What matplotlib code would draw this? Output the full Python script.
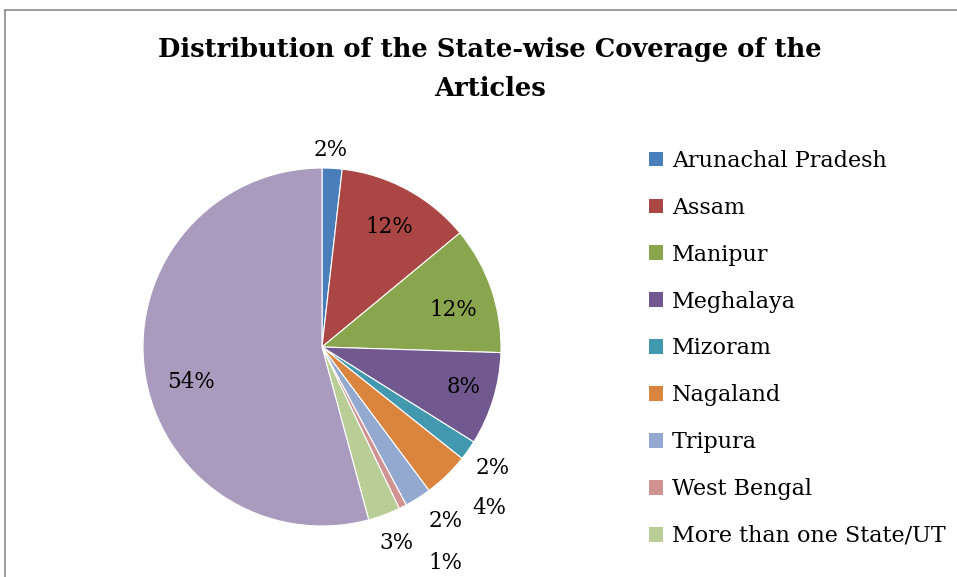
import numpy as np
import matplotlib
matplotlib.use('Agg')
import matplotlib.pyplot as plt
from matplotlib.patches import Patch
from matplotlib.lines import Line2D

# Data (share of articles, %)
states = ['Arunachal Pradesh', 'Assam', 'Manipur', 'Meghalaya', 'Mizoram',
          'Nagaland', 'Tripura', 'West Bengal', 'More than one State/UT',
          'Other']
shares = [1.8, 12.2, 11.5, 8.4, 1.8, 4.1, 2.4, 0.7, 2.9, 54.2]
legend_count = 9  # the last legend entry is cut off in the reference

colors = ['#4A7EBB', '#AA4643', '#89A54E', '#71588F', '#4198AF',
          '#DB843D', '#93A9CF', '#D19392', '#B9CD96', '#A99BBD']

# label placement (radius as fraction of pie radius, angle nudge in degrees, ccw)
label_r = [1.10, 0.77, 0.76, 0.82, 1.17, 1.30, 1.19, 1.39, 1.17, 0.76]
label_da = [0.6, -0.7, -3.0, 1.2, 0.0, 2.0, 3.0, 3.0, 0.5, 7.5]

W, H = 957, 577
fig = plt.figure(figsize=(W / 100, H / 100), dpi=100)
font = 'DejaVu Serif'

# chart frame (only left and top edges visible in the crop)
fig.add_artist(Line2D([5 / W, 5 / W], [0, 1 - 10 / H], transform=fig.transFigure,
                      color='#8c8c8c', lw=1.2))
fig.add_artist(Line2D([5 / W, 1], [1 - 10 / H, 1 - 10 / H], transform=fig.transFigure,
                      color='#8c8c8c', lw=1.2))

fig.text(490 / W, 1 - 50 / H, 'Distribution of the State-wise Coverage of the',
         ha='center', va='center', fontsize=18.5, fontweight='bold', family=font)
fig.text(490 / W, 1 - 88 / H, 'Articles',
         ha='center', va='center', fontsize=18.5, fontweight='bold', family=font)

cx, cy, r = 322, 347, 179
ax = fig.add_axes([(cx - r) / W, (H - cy - r) / H, 2 * r / W, 2 * r / H])
wedges, _ = ax.pie(shares, colors=colors, startangle=90, counterclock=False,
                   wedgeprops=dict(edgecolor='white', linewidth=0.8))
ax.set_xlim(-1, 1)
ax.set_ylim(-1, 1)
ax.set_aspect('equal')
ax.axis('off')

for w, val, lr, da in zip(wedges, shares, label_r, label_da):
    mid = np.deg2rad((w.theta1 + w.theta2) / 2 + da)
    ax.text(lr * np.cos(mid), lr * np.sin(mid), f'{val:.0f}%',
            ha='center', va='center', fontsize=15.5, family=font, clip_on=False)

handles = [Patch(facecolor=c, edgecolor='none') for c in colors[:legend_count]]
fig.legend(handles, states[:legend_count], loc='upper left',
           bbox_to_anchor=(640 / W, 1 - 141 / H), frameon=False,
           prop={'family': font, 'size': 16}, handlelength=0.65, handleheight=0.65,
           handletextpad=0.4, labelspacing=1.12, borderaxespad=0)

fig.savefig('out.png', dpi=100)
